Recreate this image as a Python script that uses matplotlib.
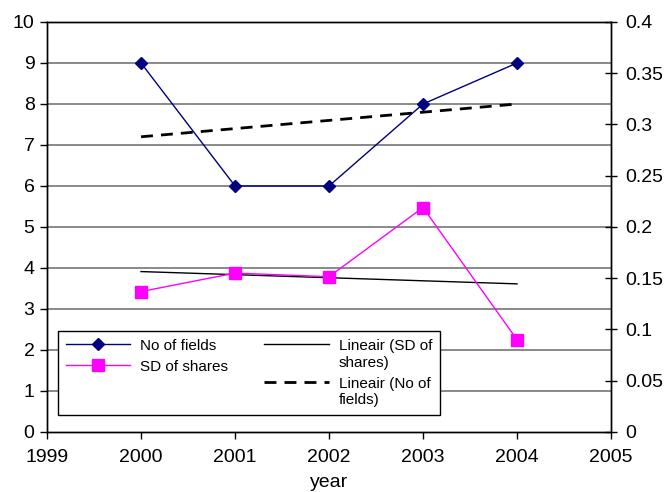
import numpy as np
import matplotlib
matplotlib.use("Agg")
import matplotlib.pyplot as plt
from matplotlib.ticker import FuncFormatter

plt.rcParams['font.family'] = ['Liberation Sans', 'DejaVu Sans']

years = [2000, 2001, 2002, 2003, 2004]
no_of_fields = [9, 6, 6, 8, 9]
sd_of_shares = [0.137, 0.155, 0.1515, 0.219, 0.090]

fig = plt.figure(figsize=(6.68, 4.92), dpi=100)
ax = fig.add_axes([0.0704, 0.122, 0.8443, 0.8333])
ax2 = ax.twinx()

# primary axis: number of fields
ax.set_xlim(1999, 2005)
ax.set_ylim(0, 10)
ax.set_yticks(range(0, 11))
ax.set_xticks(range(1999, 2006))
for y in range(1, 10):
    ax.axhline(y, color='#808080', lw=1.3, zorder=0)

l1, = ax.plot(years, no_of_fields, color='#000080', lw=1.0, marker='D',
              markersize=6, markerfacecolor='#000080', markeredgecolor='#000080',
              label='No of fields', zorder=3)

# secondary axis: SD of shares
ax2.set_ylim(0, 0.4)
ax2.set_yticks(np.arange(0, 0.401, 0.05))
ax2.yaxis.set_major_formatter(FuncFormatter(lambda v, p: f"{v:.2f}".rstrip('0').rstrip('.') if v else "0"))
l2, = ax2.plot(years, sd_of_shares, color='#FF00FF', lw=1.0, marker='s',
               markersize=8.5, markerfacecolor='#FF00FF', markeredgecolor='#FF00FF',
               label='SD of shares', zorder=3)

# linear trend lines
xs = np.array(years, dtype=float)
c_sd = np.polyfit(xs, sd_of_shares, 1)
c_nf = np.polyfit(xs, no_of_fields, 1)
l3, = ax2.plot(xs, np.polyval(c_sd, xs), color='black', lw=1.0,
               label='Lineair (SD of\nshares)', zorder=2)
l4, = ax.plot(xs, np.polyval(c_nf, xs), color='black', lw=2.0,
              dashes=(4.3, 2.9), label='Lineair (No of\nfields)', zorder=2)

for a in (ax, ax2):
    for s in a.spines.values():
        s.set_color('black')
        s.set_linewidth(1.0)

ax.tick_params(axis='both', direction='out', length=5, width=1, labelsize=14, colors='black')
ax.tick_params(axis='x', pad=7)
ax.tick_params(axis='y', pad=4)
ax2.tick_params(axis='y', direction='inout', length=8, width=1, labelsize=14, pad=6)
ax.set_xlabel('year', fontsize=14, labelpad=6)

leg = ax2.legend(handles=[l1, l2, l3, l4], ncol=2, loc='lower left',
                 bbox_to_anchor=(0.0195, 0.0415), borderaxespad=0,
                 fontsize=11, frameon=True,
                 fancybox=False, edgecolor='black', framealpha=1,
                 handlelength=4.2, columnspacing=2.4, borderpad=0.5,
                 labelspacing=0.45, handletextpad=0.65)
leg.get_frame().set_linewidth(1.0)
leg.set_zorder(10)
for t in leg.get_texts():
    t.set_linespacing(1.25)
# columns start at the top; each key sits level with the first line of its label
leg._legend_handle_box.align = 'top'
for col in leg._legend_handle_box.get_children():
    for row in col.get_children():
        row.align = 'top'

fig.savefig('out.png', dpi=100)
